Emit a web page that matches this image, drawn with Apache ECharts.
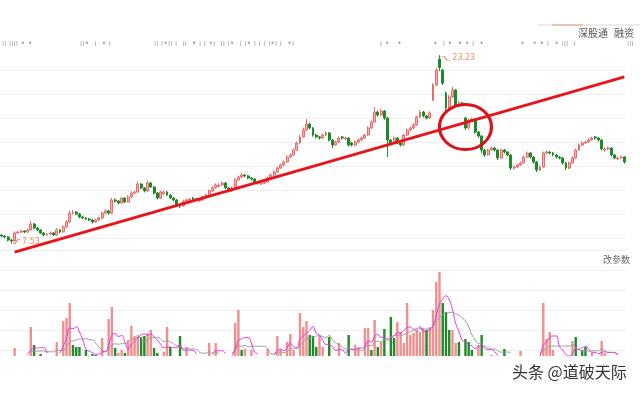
<!DOCTYPE html>
<html><head><meta charset="utf-8">
<script src="https://cdn.jsdelivr.net/npm/echarts@6/dist/echarts.min.js"></script>
<style>html,body{margin:0;padding:0;background:#fff}#c{width:640px;height:394px}</style>
</head><body><div id="c"></div>
<script>
// [open, close, low, high]
const ohlc = [
[8.25,8.17,8.05,8.33],[8.17,8.08,7.98,8.25],[8.08,7.83,7.72,8.15],[7.83,7.75,7.53,7.92],[7.75,8.42,7.70,8.55],
[8.42,8.50,8.35,8.62],[8.50,8.58,8.42,8.70],[8.58,8.50,8.40,8.66],[8.50,8.67,8.42,8.78],[8.67,9.17,8.60,9.40],
[9.17,8.83,8.75,9.25],[8.83,8.67,8.58,8.92],[8.67,8.42,8.33,8.75],[8.42,8.25,8.15,8.50],[8.25,8.33,8.17,8.42],
[8.33,8.42,8.25,8.55],[8.42,8.25,8.17,8.50],[8.25,8.67,8.20,8.83],[8.67,8.50,8.40,8.75],[8.50,8.92,8.45,9.05],
[8.92,9.33,8.85,9.50],[9.33,10.08,9.25,10.30],[10.08,10.17,9.95,10.33],[10.17,10.00,9.90,10.25],[10.00,9.75,9.65,10.08],
[9.75,9.67,9.55,9.85],[9.67,9.58,9.50,9.75],[9.58,9.50,9.40,9.67],[9.50,9.33,9.20,9.58],[9.33,9.50,9.25,9.62],
[9.50,9.67,9.42,9.80],[9.67,10.08,9.60,10.20],[10.08,10.25,10.00,10.40],[10.25,10.08,9.95,10.33],[10.08,11.17,10.00,11.35],
[11.17,11.08,10.95,11.30],[11.08,10.92,10.80,11.17],[10.92,11.33,10.85,11.45],[11.33,11.00,10.90,11.42],[11.00,11.42,10.95,11.55],
[11.42,11.75,11.35,11.88],[11.75,11.83,11.65,11.95],[11.83,12.50,11.75,12.70],[12.50,12.17,12.05,12.58],[12.17,11.92,11.80,12.25],
[11.92,12.58,11.85,12.80],[12.58,12.25,12.15,12.67],[12.25,11.75,11.62,12.33],[11.75,11.33,11.20,11.83],[11.33,11.83,11.25,11.95],
[11.70,11.83,11.60,11.95],[11.83,11.58,11.50,11.92],[11.58,11.33,11.25,11.67],[11.33,11.17,11.05,11.42],[11.17,10.75,10.62,11.25],
[10.75,10.67,10.50,10.85],[10.67,11.08,10.60,11.20],[11.08,11.17,11.00,11.30],[11.17,11.25,11.08,11.35],[11.33,11.25,11.15,11.42],
[11.25,11.17,11.08,11.33],[11.08,11.17,11.00,11.25],[11.17,11.42,11.10,11.50],[11.42,11.58,11.33,11.67],[11.58,11.92,11.50,12.05],
[11.92,12.17,11.85,12.30],[12.17,12.42,12.10,12.55],[12.30,12.42,12.20,12.55],[12.42,12.58,12.33,12.70],[12.58,12.17,12.08,12.67],
[12.17,11.92,11.80,12.25],[11.92,12.17,11.85,12.30],[12.17,12.83,12.10,13.00],[12.83,13.08,12.75,13.20],[13.08,13.25,13.00,13.40],
[13.25,13.17,13.05,13.33],[13.17,13.00,12.90,13.25],[13.00,12.92,12.80,13.08],[12.92,12.67,12.55,13.00],[12.67,12.58,12.45,12.75],
[12.50,12.58,12.40,12.67],[12.58,12.67,12.50,12.80],[12.67,13.00,12.60,13.12],[13.00,13.25,12.92,13.38],[13.25,13.50,13.17,13.62],
[13.50,13.83,13.42,13.95],[13.83,14.08,13.75,14.20],[14.08,14.33,14.00,14.45],[14.33,14.75,14.25,14.90],[14.75,14.92,14.67,15.05],
[14.92,15.33,14.85,15.45],[15.33,15.92,15.25,16.05],[15.92,16.42,15.85,16.60],[16.42,17.00,16.35,17.20],[17.00,17.50,16.92,17.90],
[17.50,17.17,17.05,17.60],[17.17,16.58,16.45,17.25],[16.58,16.42,16.30,16.67],[16.42,16.33,16.20,16.50],[16.33,16.58,16.25,16.70],
[16.58,16.75,16.50,16.88],[16.75,16.17,16.05,16.83],[16.17,15.75,15.50,16.25],[15.75,16.00,15.67,16.12],[16.00,16.33,15.92,16.45],
[16.42,16.33,16.20,16.50],[16.25,16.33,16.17,16.45],[16.33,15.75,15.62,16.42],[15.92,15.75,15.62,16.00],[15.75,16.00,15.67,16.12],
[16.00,16.17,15.92,16.30],[16.17,16.33,16.08,16.45],[16.33,16.58,16.25,16.70],[16.58,17.17,16.50,17.30],[17.17,17.67,17.08,17.80],
[17.67,18.50,17.60,18.90],[18.50,18.25,18.10,18.62],[18.25,18.58,18.17,18.75],[18.58,18.00,17.85,18.67],[18.00,16.17,14.75,18.10],
[16.17,15.92,15.75,16.25],[15.92,16.33,15.85,16.45],[16.33,15.92,15.80,16.42],[15.92,15.75,15.62,16.00],[15.75,16.58,15.67,16.70],
[16.58,17.00,16.50,17.12],[17.00,17.17,16.92,17.30],[17.17,17.42,17.08,17.55],[17.42,18.08,17.35,18.20],[18.08,18.50,18.00,18.65],
[18.50,18.17,18.05,18.58],[18.17,18.00,17.88,18.25],[18.00,18.42,17.92,18.55],[19.50,20.75,19.40,20.90],[20.75,22.00,20.65,22.20],
[22.90,22.20,21.90,23.23],[22.00,20.90,20.75,22.10],[20.08,18.83,18.60,20.20],[18.83,19.75,18.75,19.90],[19.75,20.33,19.67,20.60],
[20.33,19.08,18.95,20.40],[19.08,19.25,18.95,19.40],[19.25,19.17,19.00,19.35],[18.00,17.17,17.00,18.10],[17.17,17.83,17.05,17.95],
[17.83,17.92,17.70,18.05],[17.92,16.83,16.70,18.00],[16.83,16.50,16.35,16.92],[16.50,15.33,15.10,16.58],[15.33,14.92,14.75,15.42],
[14.92,15.33,14.85,15.45],[15.33,15.50,15.25,15.62],[15.50,15.33,15.20,15.58],[15.33,14.67,14.50,15.42],[14.67,15.33,14.60,15.45],
[15.33,15.17,15.05,15.42],[15.17,14.92,14.80,15.25],[14.92,13.83,13.67,15.00],[13.83,13.92,13.70,14.05],[13.92,14.08,13.83,14.20],
[14.08,14.25,14.00,14.38],[14.25,14.75,14.17,14.88],[14.75,15.08,14.67,15.20],[15.08,14.75,14.62,15.17],[14.75,14.33,14.20,14.83],
[14.33,13.67,13.50,14.42],[13.67,13.92,13.58,14.05],[13.92,15.08,13.85,15.20],[15.08,15.17,15.00,15.30],[15.17,15.08,14.95,15.25],
[15.08,14.92,14.80,15.17],[14.92,14.75,14.62,15.00],[14.75,14.67,14.55,14.83],[14.67,14.25,14.12,14.75],[14.25,13.83,13.67,14.33],
[13.83,14.25,13.75,14.38],[14.25,14.67,14.17,14.80],[14.67,15.33,14.60,15.45],[15.33,15.75,15.25,15.88],[15.75,15.92,15.67,16.05],
[15.92,16.00,15.83,16.12],[16.00,16.17,15.92,16.30],[16.17,16.33,16.08,16.45],[16.42,16.33,16.20,16.50],[16.33,16.17,16.05,16.42],
[16.17,15.42,15.30,16.25],[15.33,15.42,15.20,15.55],[15.42,15.50,15.33,15.62],[15.50,14.92,14.80,15.58],[14.92,14.67,14.55,15.00],
[14.58,14.67,14.50,14.80],[14.67,14.75,14.58,14.88],[14.75,14.33,14.20,14.83]
];
// sparse volume bars: day index, height, colour (r = up, g = down)
const volDay = [4,9,10,12,17,19,20,21,22,23,24,26,28,29,31,33,34,35,36,37,38,39,40,41,42,43,44,45,46,47,48,50,51,52,55,57,64,66,72,73,74,75,77,82,85,86,88,89,90,92,93,94,95,96,97,98,99,101,104,107,109,110,112,113,114,115,116,117,118,120,121,122,123,124,125,126,127,128,129,130,131,132,133,134,135,136,137,138,139,140,141,143,144,145,147,148,151,155,160,167,168,169,170,176,177,179,180,182,185,186];
const volVal = [8,29,11,2,14,35,38,53,11,9,9,6,2,1,18,37,49,8,3,6,3,16,30,20,21,19,20,23,26,8,3,4,29,9,20,9,13,13,33,46,6,7,6,7,20,7,14,22,6,43,29,35,21,20,9,20,9,19,13,21,11,8,28,28,6,36,9,14,27,39,18,34,24,13,53,21,23,26,24,28,26,29,46,74,84,53,44,26,26,13,14,17,14,6,11,21,1,7,5,53,17,24,6,15,19,6,9,3,15,3];
const volDir = "rrggrrrrggggggrrrgrrgrrrrggrrggrrggrrrrrgrrrrrrrrrrrgggrrgrgrrrrgrgrgggrrrrrrrrrgrrrrgggrrggggrgrgrrrrrrgggrrrrrgg";
const lowLabel = [3, 7.53], highLabel = [135, 23.23];
const trendStart = [4, 6.83], trendEnd = [192, 21.42];
const circleCenter = [143, 17.25];

const N = ohlc.length;
const categories = [];
for (let i = 0; i < N; i++) categories.push('D' + (i + 1));
const vol = new Array(N).fill(0);
const volColor = new Array(N).fill('r');
volDay.forEach((d, k) => { vol[d] = volVal[k]; volColor[d] = volDir[k]; });
function ma(n) {
  const out = [];
  for (let i = 0; i < N; i++) {
    if (i < n - 1) { out.push(null); continue; }
    let s = 0; for (let j = i - n + 1; j <= i; j++) s += vol[j];
    out.push(s / n);
  }
  return out.map((v, i) => {
    if (v === null) return null;
    const prev = i > 0 && out[i - 1] !== null ? out[i - 1] : 0;
    const next = i < N - 1 && out[i + 1] !== null ? out[i + 1] : 0;
    return (v >= 3 || prev >= 3 || next >= 3) ? v : null;
  });
}
const RED_B = '#ec6a6a', GREEN = '#1f8a2a';
const volData = vol.map((v, i) => ({ value: v, itemStyle: { color: volColor[i] === 'g' ? GREEN : '#f08f8f' } }));

const chart = echarts.init(document.getElementById('c'), null, { renderer: 'canvas' });
const hidden = { show: false };
const labelStyle = { color: '#e8743b', fontSize: 8, fontFamily: 'DejaVu Sans' };
chart.setOption({
  animation: false,
  grid: [
    { left: 0, right: 14, top: 70, height: 168 },
    { left: 0, right: 14, top: 266, height: 90 },
    { left: 0, right: 14, top: 250, height: 100 }
  ],
  xAxis: [
    { type: 'category', gridIndex: 0, data: categories, boundaryGap: true, axisLine: hidden, axisTick: hidden, axisLabel: hidden, splitLine: hidden },
    { type: 'category', gridIndex: 1, data: categories, boundaryGap: true, axisLine: hidden, axisTick: hidden, axisLabel: hidden, splitLine: hidden },
    { type: 'value', gridIndex: 2, min: 0, max: 1, axisLine: hidden, axisTick: hidden, axisLabel: hidden, splitLine: hidden }
  ],
  yAxis: [
    { type: 'value', gridIndex: 0, min: 8, max: 22, interval: 2, axisLine: hidden, axisTick: hidden, axisLabel: hidden,
      splitLine: { lineStyle: { color: '#eeeeee', width: 1 } } },
    { type: 'value', gridIndex: 1, min: 0, max: 90, axisLine: hidden, axisTick: hidden, axisLabel: hidden, splitLine: hidden },
    { type: 'value', gridIndex: 2, min: 0, max: 5, interval: 1, axisLine: hidden, axisTick: hidden, axisLabel: hidden,
      splitLine: { lineStyle: { color: '#eeeeee', width: 1 } } }
  ],
  series: [
    {
      type: 'candlestick', xAxisIndex: 0, yAxisIndex: 0, data: ohlc, clip: false, barWidth: 2.4,
      itemStyle: { color: '#f7b4b4', borderColor: RED_B, color0: GREEN, borderColor0: GREEN, borderWidth: 1 },
      markPoint: {
        silent: true,
        data: [
          { coord: circleCenter, symbol: 'circle', symbolSize: [52, 45],
            itemStyle: { color: 'rgba(0,0,0,0)', borderColor: '#d8131b', borderWidth: 3 }, label: { show: false } }
        ]
      }
    },
    {
      type: 'line', xAxisIndex: 0, yAxisIndex: 0, data: [trendStart, trendEnd], clip: false, symbol: 'none', z: 5,
      lineStyle: { color: '#e8141b', width: 2.8 }
    },
    {
      type: 'scatter', xAxisIndex: 0, yAxisIndex: 0, clip: false, silent: true, z: 6,
      data: [
        { value: highLabel, symbol: 'path://M0,0 L4,0 L8,4 L12,4', symbolSize: [10, 4], symbolOffset: [6, 3],
          label: Object.assign({ show: true, position: 'right', distance: 1, formatter: '23.23' }, labelStyle) },
        { value: lowLabel, symbol: 'path://M0,4 L4,4 L8,0 L12,0', symbolSize: [8, 4], symbolOffset: [5, -2],
          label: Object.assign({ show: true, position: 'right', distance: 1, formatter: '7.53' }, labelStyle) }
      ],
      itemStyle: { color: 'rgba(0,0,0,0)', borderColor: '#e8743b', borderWidth: 1 }
    },
    { type: 'bar', xAxisIndex: 1, yAxisIndex: 1, data: volData, barWidth: 2.4 },
    { type: 'line', xAxisIndex: 1, yAxisIndex: 1, data: ma(10), symbol: 'none', smooth: true, connectNulls: false,
      lineStyle: { color: '#9a9a9a', width: 1 } },
    { type: 'line', xAxisIndex: 1, yAxisIndex: 1, data: ma(5), symbol: 'none', smooth: true, connectNulls: false,
      lineStyle: { color: '#e236e2', width: 1 } }
  ],
  graphic: [
    { type: 'line', shape: { x1: 538, y1: 25, x2: 640, y2: 25 }, style: { stroke: '#d8d8d8', lineWidth: 1 } },
    { type: 'line', shape: { x1: 552, y1: 25, x2: 583, y2: 25 }, style: { stroke: '#e0a080', lineWidth: 1 } },
    { type: 'text', left: 578, top: 28, style: { text: '深股通', fontSize: 10, fill: '#555', fontFamily: 'Noto Sans CJK SC' } },
    { type: 'text', left: 614, top: 28, style: { text: '融资', fontSize: 10, fill: '#555', fontFamily: 'Noto Sans CJK SC' } },
    { type: 'text', left: 2, top: 40, style: { text: 'ıı ıııı • •', fontSize: 8, fill: '#aaa', fontFamily: 'DejaVu Sans' } },
    { type: 'text', left: 80, top: 40, style: { text: 'ıı•  ı  • ı', fontSize: 8, fill: '#aaa', fontFamily: 'DejaVu Sans' } },
    { type: 'text', left: 154, top: 40, style: { text: 'ıı ı•ıı ı  ıı  • ı ı •ı  ıı ı•  ı ı• ı ı ı ı•ı ı  •ı', fontSize: 8, fill: '#aaa', fontFamily: 'DejaVu Sans' } },
    { type: 'text', left: 380, top: 40, style: { text: 'ı •   •', fontSize: 8, fill: '#aaa', fontFamily: 'DejaVu Sans' } },
    { type: 'text', left: 433, top: 40, style: { text: '•  ı •  • • ı  •', fontSize: 8, fill: '#aaa', fontFamily: 'DejaVu Sans' } },
    { type: 'text', left: 520, top: 40, style: { text: '•   • • ı  • ııı  ı', fontSize: 8, fill: '#aaa', fontFamily: 'DejaVu Sans' } },
    { type: 'text', left: 627, top: 40, style: { text: 'ııı', fontSize: 8, fill: '#aaa', fontFamily: 'DejaVu Sans' } },
    { type: 'text', left: 603, top: 255, style: { text: '改参数', fontSize: 9, fill: '#666', fontFamily: 'Noto Sans CJK SC' } },
    { type: 'text', left: 511, top: 363, style: { text: '头条 @道破天际', fontSize: 16, fill: '#333', fontFamily: 'Noto Sans CJK SC', stroke: '#fff', lineWidth: 2 } }
  ]
});
</script></body></html>
